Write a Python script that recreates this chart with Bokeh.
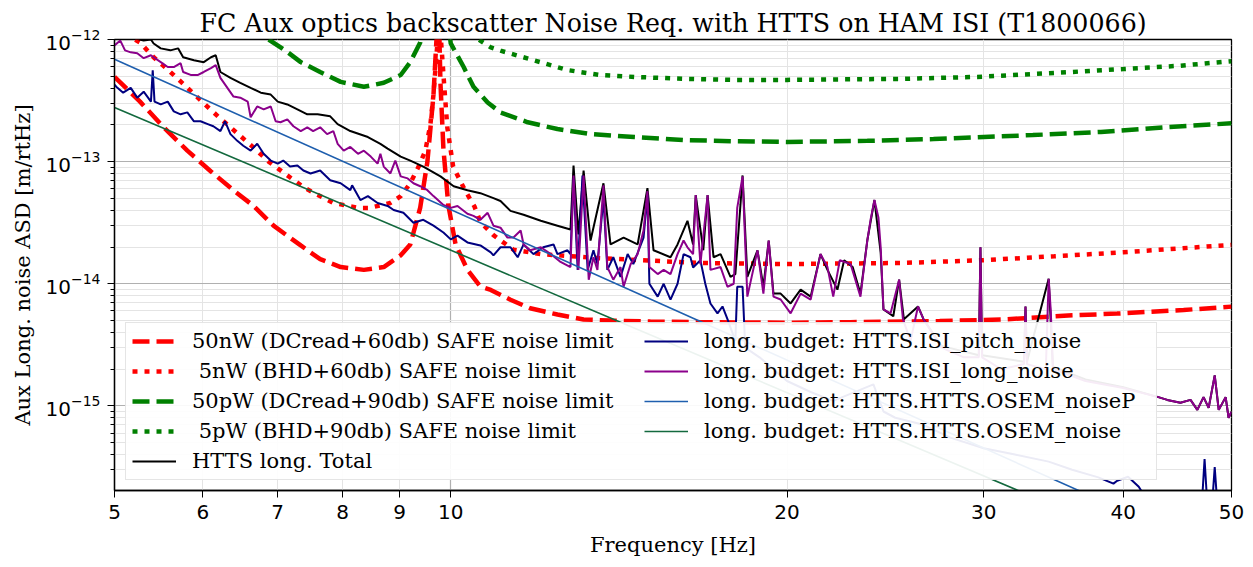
import numpy as np
from bokeh.plotting import figure
from bokeh.models import FixedTicker, Legend, LegendItem, Range1d, PrintfTickFormatter, LogTickFormatter
from bokeh.embed import file_html
from bokeh.resources import INLINE

# ---------------- data ----------------
title_text = "FC Aux optics backscatter Noise Req. with HTTS on HAM ISI (T1800066)"
x_label = "Frequency [Hz]"
y_label = "Aux Long. noise ASD [m/rtHz]"
x_ticks = [5, 6, 7, 8, 9, 10, 20, 30, 40, 50]

lim50nW_f = [5.0, 5.27, 5.53, 5.81, 6.10, 6.39, 6.66, 6.94, 7.34, 7.64, 7.97, 8.36, 8.71, 9.02, 9.20, 9.39,
             9.53, 9.65, 9.71, 9.75, 9.77, 9.79, 9.85, 9.95, 10.10, 10.35, 10.63, 10.86, 11.31, 11.78, 12.46,
             13.15, 13.90, 15.09, 16.73, 20.0, 22.8, 27.4, 31.25, 35.7, 39.5, 45.3, 50.0]
lim50nW_v = [4.94e-13, 3.10e-13, 1.92e-13, 1.23e-13, 8.31e-14, 5.83e-14, 4.34e-14, 2.99e-14, 2.06e-14, 1.59e-14,
             1.37e-14, 1.30e-14, 1.37e-14, 1.71e-14, 2.1e-14, 4.2e-14, 1.0e-13, 3.5e-13, 1.0e-12, 3.0e-12,
             1.0e-12, 4.4e-13, 1.27e-13, 4.4e-14, 2.1e-14, 1.3e-14, 9.5e-15, 8.9e-15, 7.4e-15, 6.3e-15, 5.6e-15,
             5.1e-15, 5.0e-15, 4.9e-15, 4.85e-15, 4.8e-15, 4.85e-15, 4.95e-15, 5.1e-15, 5.5e-15, 5.7e-15,
             6.1e-15, 6.5e-15]

lim5nW_f = [5.0, 5.27, 5.42, 5.61, 5.81, 6.0, 6.20, 6.42, 6.65, 6.87, 7.14, 7.41, 7.85, 8.26, 8.45, 8.83,
            9.02, 9.20, 9.36, 9.49, 9.59, 9.65, 9.69, 9.73, 9.76, 9.80, 9.87, 9.93, 10.05, 10.3, 10.5, 10.63,
            10.92, 11.38, 12.04, 13.6, 16.7, 20.0, 25.3, 30.0, 34.7, 40.0, 45.0, 50.0]
lim5nW_v = [1.25e-12, 9.46e-13, 7.16e-13, 5.42e-13, 4.03e-13, 3.05e-13, 2.31e-13, 1.75e-13, 1.32e-13, 1.0e-13,
            7.71e-14, 6.05e-14, 4.59e-14, 4.18e-14, 4.18e-14, 4.59e-14, 5.22e-14, 6.65e-14, 9.11e-14, 1.23e-13,
            2.03e-13, 3.53e-13, 5.83e-13, 9.46e-13, 3.0e-12, 1.0e-12, 4.0e-13, 1.9e-13, 9.1e-14, 5.8e-14,
            4.3e-14, 3.2e-14, 2.5e-14, 1.9e-14, 1.75e-14, 1.62e-14, 1.48e-14, 1.45e-14, 1.48e-14, 1.56e-14,
            1.68e-14, 1.81e-14, 1.95e-14, 2.08e-14]

lim50pW_f = [6.87, 7.11, 7.34, 7.64, 7.97, 8.36, 8.71, 9.02, 9.20, 9.39, 9.55, 9.75, 9.93, 10.0, 10.27,
             10.48, 10.79, 11.08, 11.72, 12.46, 13.34, 14.6, 16.2, 17.9, 20.0, 23.6, 27.05, 30.0, 33.2,
             38.2, 43.8, 50.0]
lim50pW_v = [1.0e-12, 8.15e-13, 6.53e-13, 5.42e-13, 4.50e-13, 4.10e-13, 4.42e-13, 5.12e-13, 6.53e-13,
             9.46e-13, 3.0e-12, 1.0e-10, 1.6e-12, 9.29e-13, 5.95e-13, 4.10e-13, 3.05e-13, 2.53e-13, 2.10e-13,
             1.85e-13, 1.68e-13, 1.59e-13, 1.50e-13, 1.47e-13, 1.45e-13, 1.48e-13, 1.53e-13, 1.59e-13,
             1.65e-13, 1.75e-13, 1.92e-13, 2.06e-13]

lim5pW_f = [10.0, 10.59, 10.86, 11.08, 11.86, 12.72, 13.6, 14.6, 16.2, 17.9, 20.0, 25.3, 29.6, 34.7, 40.0,
            45.0, 50.0]
lim5pW_v = [4.4e-12, 1.0e-12, 8.62e-13, 8.1e-13, 6.77e-13, 5.62e-13, 5.12e-13, 4.94e-13, 4.76e-13, 4.67e-13,
            4.67e-13, 4.76e-13, 4.94e-13, 5.32e-13, 5.73e-13, 6.1e-13, 6.65e-13]

total_f = [5.00, 5.11, 5.22, 5.31, 5.39, 5.42, 5.50, 5.61, 5.70, 5.76, 5.89, 6.01, 6.10, 6.16, 6.22, 6.35,
           6.48, 6.62, 6.76, 6.90, 7.00, 7.14, 7.29, 7.44, 7.60, 7.80, 7.92, 8.13, 8.43, 8.65, 8.78, 9.02,
           9.20, 9.45, 9.79, 10.06, 10.35, 10.63, 10.92, 11.08, 11.31, 11.62, 12.04, 12.46, 12.80, 12.88,
           13.01, 13.15, 13.34, 13.70, 13.90, 14.28, 14.70, 15.00, 15.19, 15.73, 15.96, 16.29, 16.48, 16.57,
           16.83, 16.98, 17.19, 17.44, 17.80, 17.98, 18.17, 18.25, 18.43, 18.82, 19.05, 19.26, 19.45, 19.74,
           20.15, 20.57, 21.0, 21.43, 21.74, 22.19, 22.5, 22.9, 23.27, 23.6, 23.95, 24.26, 24.4, 24.9, 25.2,
           25.45, 26.2, 26.5, 27.5, 29.7, 29.8, 29.9, 32.6, 32.7, 32.8, 34.3, 34.6, 37.0, 40.0, 43.0, 43.8,
           45.0, 45.95, 46.6, 47.2, 47.7, 48.3, 48.7, 49.4, 49.7, 50.0]
total_v = [1.02e-12, 1.06e-12, 1.02e-12, 9.8e-13, 1.0e-12, 9.28e-13, 8.46e-13, 8.15e-13, 8.46e-13, 7.16e-13,
           6.77e-13, 6.52e-13, 7.16e-13, 7.43e-13, 5.42e-13, 4.85e-13, 4.42e-13, 4.02e-13, 3.67e-13, 3.54e-13,
           3.10e-13, 2.94e-13, 2.68e-13, 2.44e-13, 2.44e-13, 2.35e-13, 2.03e-13, 1.78e-13, 1.59e-13, 1.40e-13,
           1.28e-13, 1.10e-13, 1.02e-13, 9.11e-14, 7.57e-14, 6.29e-14, 5.84e-14, 5.52e-14, 5.03e-14, 4.76e-14,
           3.95e-14, 3.67e-14, 3.28e-14, 2.99e-14, 2.78e-14, 9.28e-14, 2.53e-14, 8.46e-14, 2.26e-14, 6.65e-14,
           2.10e-14, 2.39e-14, 2.10e-14, 6.06e-14, 1.88e-14, 1.65e-14, 2.10e-14, 3.28e-14, 2.10e-14, 5.32e-14,
           1.88e-14, 5.32e-14, 1.65e-14, 1.75e-14, 1.14e-14, 1.20e-14, 4.42e-14, 7.71e-14, 1.14e-14, 1.88e-14,
           9.46e-15, 2.26e-14, 8.31e-15, 8.31e-15, 6.90e-15, 8.95e-15, 7.85e-15, 1.75e-14, 1.30e-14, 8.95e-15,
           1.56e-14, 1.37e-14, 8.31e-15, 2.26e-14, 4.85e-14, 1.8e-14, 6.17e-15, 5.42e-15, 1.08e-14, 5.13e-15,
           6.52e-15, 5.13e-15, 3.1e-15, 2.6e-15, 1.99e-14, 2.6e-15, 2.3e-15, 6.52e-15, 2.3e-15, 1.10e-14,
           2.1e-15, 1.65e-15, 1.42e-15, 1.18e-15, 1.12e-15, 1.06e-15, 1.12e-15, 9.28e-16, 1.18e-15, 9.63e-16,
           1.78e-15, 9.28e-16, 1.18e-15, 8.0e-16, 8.95e-16]

pitch_f = [5.00, 5.03, 5.09, 5.17, 5.24, 5.31, 5.39, 5.41, 5.43, 5.50, 5.58, 5.65, 5.73, 5.81, 5.89, 5.97,
           6.06, 6.13, 6.22, 6.28, 6.35, 6.44, 6.52, 6.62, 6.71, 6.80, 6.90, 7.00, 7.08, 7.18, 7.29, 7.38,
           7.49, 7.64, 7.80, 7.97, 8.13, 8.16, 8.30, 8.43, 8.60, 8.78, 8.89, 9.07, 9.26, 9.45, 9.65, 9.85,
           10.0, 10.14, 10.35, 10.63, 10.86, 10.92, 11.08, 11.31, 11.48, 11.62, 11.86, 12.10, 12.36, 12.46,
           12.72, 12.80, 12.88, 12.99, 13.12, 13.26, 13.42, 13.53, 13.70, 13.81, 13.98, 14.19, 14.40, 14.57,
           14.88, 15.00, 15.06, 15.32, 15.51, 15.73, 15.96, 16.16, 16.39, 16.48, 16.73, 16.90, 17.08, 17.33,
           17.51, 17.69, 17.98, 18.05, 18.25, 18.35, 18.9, 20.0, 21.0, 22.0, 23.9, 24.4, 25.0, 26.5, 28.0,
           30.0, 32.0, 34.3, 36.0, 38.0, 39.2, 39.5, 40.4, 41.3, 42.0, 44.0, 46.0, 47.0, 47.3, 47.6, 48.0,
           48.3, 48.6, 49.2, 50.0]
pitch_v = [4.26e-13, 4.02e-13, 3.67e-13, 4.02e-13, 3.34e-13, 3.74e-13, 3.10e-13, 5.6e-13, 3.10e-13, 2.94e-13,
           3.10e-13, 2.58e-13, 2.44e-13, 2.53e-13, 2.14e-13, 2.14e-13, 2.03e-13, 1.95e-13, 1.78e-13, 2.14e-13,
           1.68e-13, 1.48e-13, 1.35e-13, 1.23e-13, 1.40e-13, 1.16e-13, 1.02e-13, 9.63e-14, 1.02e-13, 9.11e-14,
           9.3e-14, 8.46e-14, 8.0e-14, 8.46e-14, 7.03e-14, 6.65e-14, 5.84e-14, 6.40e-14, 4.85e-14, 5.22e-14,
           4.59e-14, 4.34e-14, 4.02e-14, 3.81e-14, 3.16e-14, 3.34e-14, 2.99e-14, 2.63e-14, 2.31e-14, 2.48e-14,
           2.18e-14, 2.06e-14, 1.81e-14, 1.71e-14, 1.99e-14, 1.99e-14, 1.65e-14, 2.10e-14, 1.75e-14, 1.99e-14,
           2.10e-14, 1.75e-14, 1.88e-14, 1.75e-14, 7.29e-14, 1.30e-14, 7.71e-14, 1.30e-14, 1.88e-14, 1.45e-14,
           5.03e-14, 1.30e-14, 1.65e-14, 1.14e-14, 1.75e-14, 1.45e-14, 2.39e-14, 5.32e-14, 1.0e-14, 7.85e-15,
           1.0e-14, 7.43e-15, 1.0e-14, 1.75e-14, 1.65e-14, 1.36e-14, 1.56e-14, 1.0e-14, 6.90e-15, 5.73e-15,
           6.52e-15, 5.13e-15, 3.41e-15, 9.46e-15, 9.46e-15, 3.0e-15, 2.5e-15, 1.6e-15, 1.3e-15, 1.1e-15,
           1.5e-15, 9e-16, 8e-16, 7e-16, 5.5e-16, 4.5e-16, 4e-16, 3.5e-16, 3e-16, 2.6e-16, 2.31e-16, 2.44e-16,
           2.63e-16, 2.18e-16, 1.7e-16, 1.5e-16, 1.4e-16, 1.4e-16, 3.67e-16, 1.4e-16, 1.4e-16, 3.16e-16,
           1.4e-16, 1.3e-16, 1.3e-16]

long_f = [5.00, 5.06, 5.11, 5.17, 5.24, 5.31, 5.39, 5.42, 5.50, 5.58, 5.65, 5.73, 5.76, 5.85, 5.94, 6.01,
          6.10, 6.16, 6.22, 6.31, 6.39, 6.48, 6.58, 6.62, 6.71, 6.80, 6.90, 6.97, 7.04, 7.14, 7.23, 7.34,
          7.44, 7.53, 7.64, 7.75, 7.85, 7.92, 8.02, 8.13, 8.26, 8.36, 8.48, 8.60, 8.65, 8.71, 8.83, 8.92,
          9.02, 9.15, 9.26, 9.39, 9.53, 9.65, 9.85, 10.0, 10.14, 10.35, 10.48, 10.63, 10.79, 10.92, 11.08,
          11.24, 11.38, 11.55, 11.62, 11.78, 12.04, 12.29, 12.54, 12.80, 12.88, 13.01, 13.15, 13.29, 13.42,
          13.53, 13.70, 13.81, 13.98, 14.19, 14.28, 14.49, 14.70, 14.88, 15.00, 15.06, 15.32, 15.51, 15.73,
          15.96, 16.16, 16.29, 16.48, 16.57, 16.73, 16.98, 17.08, 17.44, 17.69, 17.92, 18.05, 18.25, 18.43,
          18.82, 19.05, 19.26, 19.45, 19.74, 20.15, 20.57, 21.0, 21.43, 21.74, 22.0, 22.3, 22.8, 23.27, 23.6,
          23.76, 23.95, 24.15, 24.26, 24.4, 24.76, 25.2, 25.4, 25.8, 26.2, 26.5, 27.5, 28.8, 29.7, 29.8,
          29.9, 31.1, 32.6, 32.7, 32.8, 34.1, 34.3, 34.45, 34.6, 37.0, 40.0, 43.0, 43.8, 45.0, 45.95, 46.6,
          47.2, 47.7, 48.3, 48.7, 49.4, 49.7, 50.0]
long_v = [8.95e-13, 9.8e-13, 8.15e-13, 7.85e-13, 7.71e-13, 7.03e-13, 7.43e-13, 7.16e-13, 6.52e-13, 5.95e-13,
          5.95e-13, 6.40e-13, 5.42e-13, 5.13e-13, 5.13e-13, 5.42e-13, 5.84e-13, 6.17e-13, 4.85e-13, 4.02e-13,
          3.41e-13, 3.34e-13, 3.10e-13, 2.31e-13, 2.83e-13, 2.68e-13, 2.83e-13, 2.14e-13, 2.10e-13, 2.22e-13,
          1.95e-13, 1.78e-13, 1.91e-13, 1.78e-13, 1.91e-13, 1.68e-13, 1.78e-13, 1.40e-13, 1.23e-13, 1.32e-13,
          1.16e-13, 1.23e-13, 1.10e-13, 9.63e-14, 1.16e-13, 9.11e-14, 8.0e-14, 1.02e-13, 7.57e-14, 7.29e-14,
          6.65e-14, 6.29e-14, 5.84e-14, 5.22e-14, 4.42e-14, 4.18e-14, 4.34e-14, 3.74e-14, 3.60e-14, 3.34e-14,
          3.81e-14, 2.99e-14, 2.88e-14, 2.39e-14, 2.39e-14, 2.73e-14, 2.10e-14, 1.88e-14, 1.99e-14, 1.75e-14,
          1.51e-14, 1.37e-14, 7.71e-14, 1.30e-14, 7.71e-14, 1.08e-14, 1.65e-14, 1.30e-14, 6.40e-14, 1.37e-14,
          1.08e-14, 1.37e-14, 9.46e-15, 1.45e-14, 1.75e-14, 2.73e-14, 5.73e-14, 1.37e-14, 1.20e-14, 1.30e-14,
          1.20e-14, 1.75e-14, 2.26e-14, 1.99e-14, 1.75e-14, 5.32e-14, 1.45e-14, 5.32e-14, 1.30e-14, 1.37e-14,
          9.46e-15, 1.0e-14, 4.18e-14, 7.57e-14, 7.85e-15, 1.88e-14, 8.31e-15, 2.26e-14, 7.85e-15, 7.43e-15,
          5.73e-15, 8.31e-15, 7.43e-15, 1.75e-14, 1.37e-14, 7.85e-15, 1.56e-14, 1.45e-14, 7.85e-15, 2.26e-14,
          3.34e-14, 4.85e-14, 3.47e-14, 1.99e-14, 6.17e-15, 5.73e-15, 1.08e-14, 5.13e-15, 3.4e-15, 6.52e-15,
          5.13e-15, 3.0e-15, 2.5e-15, 2.5e-15, 1.99e-14, 2.5e-15, 2.0e-15, 2.2e-15, 6.52e-15, 2.2e-15,
          2.0e-15, 1.10e-14, 6.0e-15, 2.0e-15, 1.6e-15, 1.4e-15, 1.18e-15, 1.12e-15, 1.06e-15, 1.12e-15,
          9.28e-16, 1.18e-15, 9.63e-16, 1.78e-15, 9.28e-16, 1.18e-15, 8.0e-16, 8.95e-16]

osemP_f = [5.0, 16.5, 50.0]
osemP_v = [6.9e-13, 5.2e-15, 5.6e-17]
osem_f = [5.0, 14.0, 50.0]
osem_v = [2.78e-13, 5.1e-15, 3.7e-17]

labels = ["50nW (DCread+60db) SAFE noise limit",
          " 5nW (BHD+60db) SAFE noise limit",
          "50pW (DCread+90db) SAFE noise limit",
          " 5pW (BHD+90db) SAFE noise limit",
          "HTTS long. Total",
          "long. budget: HTTS.ISI_pitch_noise",
          "long. budget: HTTS.ISI_long_noise",
          "long. budget: HTTS.HTTS.OSEM_noiseP",
          "long. budget: HTTS.HTTS.OSEM_noise"]

# ---------------- figure ----------------
SERIF = "DejaVu Serif"
SANS = "DejaVu Sans"

p = figure(width=1245, height=559, x_axis_type="log", y_axis_type="log",
           x_range=Range1d(5, 50), y_range=Range1d(2.03e-16, 1.0e-12),
           output_backend="svg", toolbar_location=None,
           min_border_left=114, min_border_right=14, min_border_top=39, min_border_bottom=62)

p.title.text = title_text
p.title.align = "center"
p.title.text_font = SERIF
p.title.text_font_size = "25.3px"
p.title.text_font_style = "normal"
p.title.text_color = "black"
p.title.standoff = 3

p.outline_line_color = "black"
p.outline_line_width = 1.3

# axes
xt = FixedTicker(ticks=x_ticks, minor_ticks=[])
p.xaxis.ticker = xt
p.xaxis.formatter = PrintfTickFormatter(format="%d")
ymaj = [1e-15, 1e-14, 1e-13, 1e-12]
ymin = [m * 10.0 ** e for e in range(-16, -12) for m in range(2, 10)]
yt = FixedTicker(ticks=ymaj, minor_ticks=ymin)
p.yaxis.ticker = yt
p.yaxis.formatter = LogTickFormatter()

for ax in (p.xaxis[0], p.yaxis[0]):
    ax.axis_line_color = "black"
    ax.axis_line_width = 1.3
    ax.major_tick_in = 0
    ax.major_tick_out = 7
    ax.minor_tick_in = 0
    ax.minor_tick_out = 4
    ax.major_tick_line_color = "black"
    ax.minor_tick_line_color = "black"
    ax.major_label_text_font = SANS
    ax.major_label_text_font_size = "20px"
    ax.major_label_text_color = "black"
    ax.axis_label_text_font = SERIF
    ax.axis_label_text_font_size = "21px"
    ax.axis_label_text_font_style = "normal"
    ax.axis_label_text_color = "black"

p.xaxis.axis_label = x_label
p.yaxis.axis_label = y_label
p.xaxis.major_label_standoff = 7
p.yaxis.major_label_standoff = 7
p.xaxis.axis_label_standoff = 11
p.yaxis.axis_label_standoff = 8

# grids
p.ygrid.ticker = yt
p.ygrid.grid_line_color = "#b0b0b0"
p.ygrid.grid_line_width = 1.2
p.ygrid.minor_grid_line_color = "#e4e4e4"
p.xgrid.ticker = FixedTicker(ticks=[10], minor_ticks=[6, 7, 8, 9, 20, 30, 40])
p.xgrid.grid_line_color = "#b0b0b0"
p.xgrid.grid_line_width = 1.2
p.xgrid.minor_grid_line_color = "#e4e4e4"

# ---------------- glyphs ----------------
TH = 4.5
r1 = p.line(lim50nW_f, lim50nW_v, line_color="#ff0000", line_width=TH, line_dash="17 7")
r2 = p.line(lim5nW_f, lim5nW_v, line_color="#ff0000", line_width=TH, line_dash="5 7")
r3 = p.line(lim50pW_f, lim50pW_v, line_color="#008000", line_width=TH, line_dash="17 7")
r4 = p.line(lim5pW_f, lim5pW_v, line_color="#008000", line_width=TH, line_dash="5 7")
r5 = p.line(total_f, total_v, line_color="black", line_width=2.0)
r6 = p.line(pitch_f, pitch_v, line_color="#000080", line_width=2.0)
r7 = p.line(long_f, long_v, line_color="#8b008b", line_width=2.0)
r8 = p.line(osemP_f, osemP_v, line_color="#1f5fae", line_width=1.6)
r9 = p.line(osem_f, osem_v, line_color="#13693e", line_width=1.6)

rs = [r1, r2, r3, r4, r5, r6, r7, r8, r9]
legend = Legend(items=[LegendItem(label=l, renderers=[r]) for l, r in zip(labels, rs)],
                location=(11, 10), ncols=2, orientation="vertical")
legend.label_text_font = SERIF
legend.label_text_font_size = "21px"
legend.label_text_color = "black"
legend.glyph_width = 44
legend.glyph_height = 20
legend.label_standoff = 16
legend.label_width = 446
legend.spacing = 6
legend.padding = 6
legend.margin = 0
legend.border_line_color = "#cccccc"
legend.border_line_width = 1.2
legend.background_fill_color = "white"
legend.background_fill_alpha = 0.92
p.add_layout(legend)

open("out.html", "w").write(file_html(p, INLINE))
